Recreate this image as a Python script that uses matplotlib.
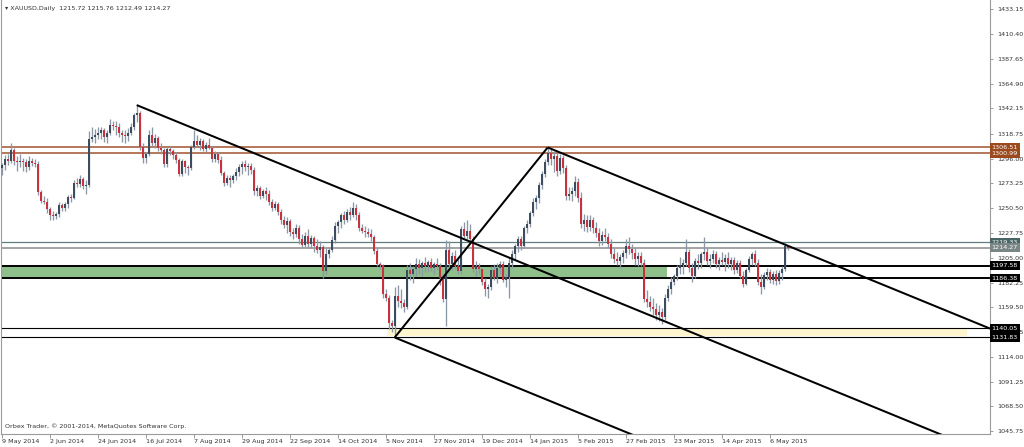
import matplotlib
matplotlib.use("Agg")
import matplotlib.pyplot as plt
import matplotlib.transforms as mtransforms
import numpy as np

# XAUUSD daily bars (open, high, low, close), 9 May 2014 .. 13 May 2015
bars = [
    (1287,1292,1281,1290), (1290,1299,1286,1296), (1296,1300,1290,1294), (1294,1310,1292,1304), (1304,1306,1290,1294),
    (1294,1298,1285,1293), (1293,1300,1288,1294), (1294,1297,1285,1293), (1293,1296,1284,1288), (1288,1298,1286,1294),
    (1294,1297,1289,1292), (1292,1296,1288,1291), (1291,1294,1263,1265), (1265,1267,1255,1257), (1257,1262,1254,1256),
    (1256,1260,1246,1250), (1250,1252,1240,1244), (1244,1248,1240,1243), (1243,1247,1241,1245), (1245,1256,1242,1253),
    (1253,1255,1248,1251), (1251,1256,1248,1254), (1254,1263,1251,1261), (1261,1264,1256,1260), (1260,1276,1259,1274),
    (1274,1278,1270,1273), (1273,1281,1270,1277), (1277,1279,1268,1271), (1271,1276,1264,1272), (1272,1321,1270,1314),
    (1314,1325,1311,1316), (1316,1323,1310,1318), (1318,1325,1314,1320), (1320,1325,1314,1322), (1322,1324,1311,1316),
    (1316,1322,1310,1320), (1320,1332,1318,1327), (1327,1331,1322,1326), (1326,1331,1318,1325), (1325,1329,1316,1320),
    (1320,1322,1311,1318), (1318,1322,1310,1317), (1317,1324,1312,1320), (1320,1329,1318,1325), (1325,1338,1322,1336),
    (1336,1345,1330,1338), (1338,1340,1304,1307), (1307,1310,1292,1297), (1297,1302,1292,1300), (1300,1322,1298,1318),
    (1318,1325,1308,1310), (1310,1319,1306,1315), (1315,1317,1303,1306), (1306,1310,1300,1304), (1304,1306,1288,1291),
    (1291,1307,1288,1305), (1305,1308,1299,1303), (1303,1305,1296,1299), (1299,1302,1292,1295), (1295,1297,1280,1282),
    (1282,1296,1280,1294), (1294,1295,1283,1288), (1288,1290,1281,1287), (1287,1309,1286,1307), (1307,1322,1305,1312),
    (1312,1318,1308,1309), (1309,1315,1304,1312), (1312,1314,1303,1305), (1305,1311,1302,1309), (1309,1315,1305,1306),
    (1306,1308,1293,1296), (1296,1303,1293,1300), (1300,1302,1292,1295), (1295,1298,1281,1283), (1283,1285,1271,1274),
    (1274,1281,1272,1278), (1278,1281,1270,1276), (1276,1282,1274,1280), (1280,1287,1276,1284), (1284,1291,1280,1288),
    (1288,1294,1282,1291), (1291,1295,1285,1288), (1288,1292,1281,1289), (1289,1292,1282,1286), (1286,1288,1263,1266),
    (1266,1272,1262,1269), (1269,1271,1259,1262), (1262,1268,1260,1266), (1266,1270,1258,1264), (1264,1267,1253,1256),
    (1256,1259,1248,1251), (1251,1257,1249,1254), (1254,1256,1244,1247), (1247,1250,1236,1240), (1240,1243,1232,1235),
    (1235,1242,1228,1239), (1239,1241,1225,1229), (1229,1232,1222,1227), (1227,1236,1224,1232), (1232,1235,1218,1222),
    (1222,1227,1215,1217), (1217,1229,1215,1225), (1225,1231,1214,1218), (1218,1226,1214,1223), (1223,1225,1210,1216),
    (1216,1222,1209,1212), (1212,1220,1206,1215), (1215,1217,1186,1193), (1193,1214,1190,1208), (1208,1215,1205,1212),
    (1212,1225,1210,1221), (1221,1238,1219,1234), (1234,1240,1228,1238), (1238,1246,1232,1244), (1244,1248,1236,1240),
    (1240,1250,1238,1247), (1247,1252,1240,1244), (1244,1256,1242,1251), (1251,1254,1240,1244), (1244,1247,1230,1232),
    (1232,1236,1228,1230), (1230,1234,1224,1229), (1229,1232,1224,1227), (1227,1231,1220,1224), (1224,1226,1208,1211),
    (1211,1214,1197,1199), (1199,1201,1195,1198), (1198,1199,1168,1172), (1172,1176,1165,1168), (1168,1171,1140,1145),
    (1145,1148,1137,1142), (1142,1178,1132,1170), (1170,1180,1160,1165), (1165,1176,1159,1163), (1163,1167,1155,1160),
    (1160,1198,1158,1194), (1194,1200,1185,1190), (1190,1197,1182,1195), (1195,1205,1188,1199), (1199,1204,1190,1196),
    (1196,1202,1188,1200), (1200,1206,1192,1197), (1197,1203,1192,1201), (1201,1205,1193,1196), (1196,1201,1190,1199),
    (1199,1205,1194,1197), (1197,1200,1180,1186), (1186,1190,1164,1167), (1167,1221,1142,1212), (1212,1220,1196,1199),
    (1199,1210,1194,1207), (1207,1212,1195,1197), (1197,1206,1190,1193), (1193,1234,1190,1231), (1231,1238,1223,1225),
    (1225,1240,1222,1230), (1230,1236,1219,1222), (1222,1225,1192,1195), (1195,1202,1188,1197), (1197,1200,1190,1195),
    (1195,1196,1180,1183), (1183,1186,1170,1176), (1176,1181,1168,1178), (1178,1197,1175,1194), (1194,1199,1185,1186),
    (1186,1200,1182,1196), (1196,1202,1190,1199), (1199,1202,1183,1185), (1185,1190,1178,1187), (1187,1205,1168,1200),
    (1200,1212,1196,1208), (1208,1218,1203,1216), (1216,1225,1210,1222), (1222,1225,1212,1216), (1216,1234,1214,1232),
    (1232,1240,1228,1236), (1236,1248,1233,1246), (1246,1260,1243,1256), (1256,1263,1250,1260), (1260,1275,1255,1272),
    (1272,1285,1268,1282), (1282,1296,1279,1293), (1293,1306,1290,1301), (1301,1305,1290,1296), (1296,1303,1284,1298),
    (1298,1302,1280,1285), (1285,1300,1282,1297), (1297,1299,1283,1287), (1287,1290,1258,1262), (1262,1270,1258,1264),
    (1264,1270,1257,1266), (1266,1280,1262,1275), (1275,1278,1256,1260), (1260,1265,1232,1236), (1236,1245,1230,1240),
    (1240,1244,1229,1233), (1233,1244,1230,1240), (1240,1242,1228,1232), (1232,1238,1224,1228), (1228,1232,1216,1220),
    (1220,1230,1217,1226), (1226,1232,1220,1224), (1224,1228,1214,1218), (1218,1222,1205,1208), (1208,1214,1200,1204),
    (1204,1210,1198,1202), (1202,1208,1196,1206), (1206,1212,1200,1209), (1209,1222,1205,1216), (1216,1224,1208,1213),
    (1213,1218,1204,1209), (1209,1214,1198,1204), (1204,1210,1197,1207), (1207,1210,1197,1200), (1200,1204,1164,1167),
    (1167,1175,1160,1164), (1164,1170,1156,1160), (1160,1168,1152,1158), (1158,1163,1148,1152), (1152,1162,1147,1155),
    (1155,1159,1144,1151), (1151,1172,1148,1168), (1168,1180,1165,1176), (1176,1187,1172,1183), (1183,1190,1180,1188),
    (1188,1198,1185,1196), (1196,1206,1190,1198), (1198,1204,1190,1200), (1200,1222,1197,1210), (1210,1213,1192,1196),
    (1196,1200,1183,1188), (1188,1205,1186,1202), (1202,1208,1195,1200), (1200,1210,1196,1208), (1208,1224,1203,1210),
    (1210,1214,1198,1202), (1202,1208,1196,1204), (1204,1212,1200,1208), (1208,1211,1196,1199), (1199,1206,1194,1203),
    (1203,1210,1198,1201), (1201,1208,1193,1205), (1205,1210,1196,1199), (1199,1206,1194,1203), (1203,1206,1190,1194),
    (1194,1203,1191,1200), (1200,1203,1186,1188), (1188,1193,1178,1181), (1181,1196,1180,1194), (1194,1207,1192,1204),
    (1204,1210,1198,1208), (1208,1212,1197,1200), (1200,1204,1180,1183), (1183,1190,1172,1178), (1178,1192,1176,1189),
    (1189,1196,1185,1192), (1192,1195,1182,1185), (1185,1193,1181,1190), (1190,1194,1180,1184), (1184,1194,1181,1191),
    (1191,1197,1185,1195), (1195,1219,1193,1216), (1215.72,1215.76,1212.49,1214.27),
]
opens, highs, lows, closes = (np.array(v, dtype=float) for v in zip(*bars))

date_labels = ["9 May 2014", "2 Jun 2014", "24 Jun 2014", "16 Jul 2014", "7 Aug 2014", "29 Aug 2014",
               "22 Sep 2014", "14 Oct 2014", "5 Nov 2014", "27 Nov 2014", "19 Dec 2014", "14 Jan 2015",
               "5 Feb 2015", "27 Feb 2015", "23 Mar 2015", "14 Apr 2015", "6 May 2015"]
date_step = 16  # bars between date labels

price_ticks = [1433.15, 1410.40, 1387.65, 1364.90, 1342.15, 1318.75, 1296.00, 1273.25, 1250.50,
               1227.75, 1205.00, 1182.25, 1159.50, 1136.75, 1114.00, 1091.25, 1068.50, 1045.75]

# horizontal levels: price, line colour, line width, label box colour
levels = [
    (1306.51, "#a0522d", 1.1, "#9a4a1c"),
    (1300.99, "#a0522d", 1.1, "#9a4a1c"),
    (1219.33, "#5f7f7f", 0.9, "#4a6565"),
    (1214.27, "#a3a3a3", 1.4, "#7a8585"),
    (1197.58, "#000000", 1.4, "#000000"),
    (1186.38, "#000000", 1.4, "#000000"),
    (1140.05, "#000000", 0.8, "#000000"),
    (1131.83, "#000000", 0.8, "#000000"),
]

# zones: (x start bar, x end bar, low, high, colour)
green_zone = (-1, 221.8, 1186.38, 1197.58, "#8fbf8a")
yellow_zone = (128.4, 321.8, 1133.0, 1140.05, "#fff6cf")

# trend lines: ((bar, price), (bar, price))
trend_lines = [
    ((45, 1345.2), (320, 1034.9)),
    ((182, 1306.3), (329.5, 1139.9)),
    ((131, 1131.8), (220, 1031.5)),
    ((131, 1131.8), (182, 1306.3)),
]

fig = plt.figure(figsize=(10.24, 4.47), dpi=100)
ax = fig.add_axes([1 / 1024, 13 / 447, 989 / 1024, 434 / 447])
ax.set_xlim(-0.23, 329.43)
ax.set_ylim(1043.15, 1441.7)

# zones
ax.fill_between([green_zone[0], green_zone[1]], green_zone[2], green_zone[3], color=green_zone[4], lw=0, zorder=1)
ax.fill_between([yellow_zone[0], yellow_zone[1]], yellow_zone[2], yellow_zone[3], color=yellow_zone[4], lw=0, zorder=1)

# levels
for price, col, lw, _ in levels:
    ax.axhline(price, color=col, lw=lw, zorder=2)

# candles
x = np.arange(len(closes))
up = closes >= opens
body = np.maximum(np.abs(closes - opens), 0.7)
ax.vlines(x, lows, highs, color="#8c98a6", lw=0.95, zorder=3)
ax.bar(x[up], body[up], bottom=np.minimum(opens, closes)[up], width=0.7, color="#3d4b5e", zorder=4)
ax.bar(x[~up], body[~up], bottom=np.minimum(opens, closes)[~up], width=0.7, color="#c8323f", zorder=4)

# trend lines
for (x0, y0), (x1, y1) in trend_lines:
    ax.plot([x0, x1], [y0, y1], color="black", lw=1.45, zorder=5, solid_capstyle="butt")

# axes styling
ax.spines["top"].set_visible(False)
for side in ["left", "right", "bottom"]:
    ax.spines[side].set_color("#9a9a9a")
    ax.spines[side].set_linewidth(0.8)

ax.yaxis.tick_right()
ax.set_yticks(price_ticks)
ax.set_yticklabels([f"{p:.2f}" for p in price_ticks])
ax.tick_params(axis="y", length=2.5, width=0.7, pad=2.5, labelsize=4.6, colors="#9a9a9a", labelcolor="#333333")

ax.set_xticks(np.arange(len(date_labels)) * date_step)
ax.set_xticklabels(date_labels, ha="left")
ax.tick_params(axis="x", length=3, width=0.7, pad=0.5, labelsize=4.6, colors="#9a9a9a", labelcolor="#333333")

# level price boxes on the price scale
trans = mtransforms.blended_transform_factory(ax.transAxes, ax.transData)
for price, _, _, box in levels:
    ax.text(1.0015, price, f"{price:.2f}", transform=trans, ha="left", va="center", fontsize=4.6,
            color="white", clip_on=False, zorder=10,
            bbox=dict(boxstyle="square,pad=0.3", fc=box, ec="none"))

ax.text(0.004, 0.987, "\u25be XAUUSD,Daily  1215.72 1215.76 1212.49 1214.27", transform=ax.transAxes,
        ha="left", va="top", fontsize=4.6, color="#333333")
ax.text(0.004, 0.012, "Orbex Trader, \u00a9 2001-2014, MetaQuotes Software Corp.", transform=ax.transAxes,
        ha="left", va="bottom", fontsize=4.6, color="#333333")

fig.savefig("out.png", dpi=100)
